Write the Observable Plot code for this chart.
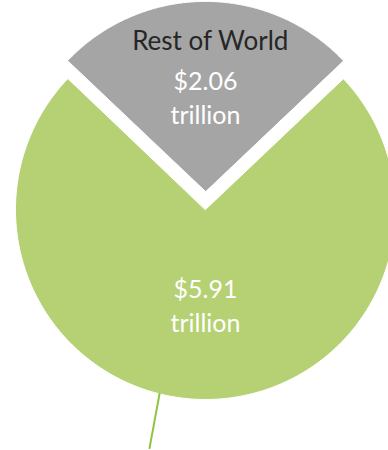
<!DOCTYPE html>
<html><head><meta charset="utf-8">
<script src="https://cdn.jsdelivr.net/npm/d3@7"></script>
<script src="https://cdn.jsdelivr.net/npm/@observablehq/plot@0.6"></script>
<style>html,body{margin:0;padding:0;background:#fff;overflow:hidden}</style>
</head><body><div id="chart"></div>
<script>
// ---- data ----
const categories = ["Rest of World", "Main"];
const values = [2.06, 5.91];
const valueLabels = ["$2.06\ntrillion", "$5.91\ntrillion"];
const showCategory = [true, false];
const colors = ["#a5a5a5", "#b5d174"];
const explode = [0.095, 0];               // slice pull-out, in radius units
// leader line toward an off-canvas label of the green slice (angle in degrees, radius units)
const leaderAngles = [194, 193.2];
const leaderRadii = [1.0, 1.29];

// ---- layout ----
const W = 388, H = 450, R = 190, cx = 205, cy = 209;
const total = d3.sum(values);
const frac0 = values[0] / total;
const arcs = d3.pie().sort(null)
  .startAngle(-Math.PI * frac0)
  .endAngle(-Math.PI * frac0 + 2 * Math.PI)(values);

const pts = [];
const valueText = [];
const catText = [];
arcs.forEach((a, i) => {
  const mid = (a.startAngle + a.endAngle) / 2;
  const ox = explode[i] * Math.sin(mid), oy = explode[i] * Math.cos(mid);
  const name = categories[i];
  pts.push({name, x: ox, y: oy});
  const n = 240;
  for (let k = 0; k <= n; k++) {
    const t = a.startAngle + (a.endAngle - a.startAngle) * k / n;
    pts.push({name, x: ox + Math.sin(t), y: oy + Math.cos(t)});
  }
  valueText.push({name, text: valueLabels[i], x: ox + 0.5 * Math.sin(mid), y: oy + 0.5 * Math.cos(mid)});
  if (showCategory[i]) catText.push({name, text: name, x: ox + 0.79 * Math.sin(mid) + 0.025, y: oy + 0.79 * Math.cos(mid)});
});
const leader = leaderAngles.map((deg, i) => {
  const t = deg * Math.PI / 180;
  return {x: leaderRadii[i] * Math.sin(t), y: leaderRadii[i] * Math.cos(t)};
});

const plot = Plot.plot({
  width: W, height: H,
  margin: 0,
  x: {domain: [-cx / R, (W - cx) / R], axis: null},
  y: {domain: [-(H - cy) / R, cy / R], axis: null},
  color: {domain: categories, range: colors},
  style: {fontFamily: "Lato, 'Open Sans', sans-serif", background: "#fff"},
  marks: [
    Plot.line(pts, {x: "x", y: "y", z: "name", fill: "name", stroke: "#fff", strokeWidth: 1, curve: "linear-closed"}),
    Plot.line(leader, {x: "x", y: "y", stroke: "#8fc43f", strokeWidth: 2}),
    Plot.text(catText, {x: "x", y: "y", text: "text", fill: "#262626", fontSize: 26}),
    Plot.text(valueText, {x: "x", y: "y", text: "text", fill: "#fff", fontSize: 25, lineHeight: 1.36})
  ]
});
document.getElementById("chart").appendChild(plot);
</script>
</body></html>
